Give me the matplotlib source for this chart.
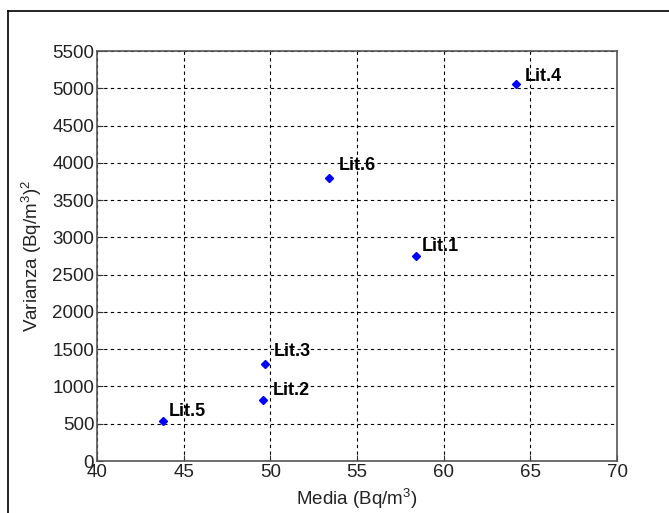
import matplotlib
matplotlib.use('agg')
import matplotlib.pyplot as plt
from matplotlib.lines import Line2D

# data
labels = ['Lit.1', 'Lit.2', 'Lit.3', 'Lit.4', 'Lit.5', 'Lit.6']
media = [58.4, 49.6, 49.7, 64.2, 43.8, 53.4]
varianza = [2750, 820, 1300, 5060, 530, 3800]

# label offsets in points (right, up)
offsets = [(4.5, 7), (7, 6.5), (6.5, 9), (6, 5), (4.5, 7), (7, 8.5)]

plt.rcParams['font.family'] = ['Liberation Sans', 'DejaVu Sans']
plt.rcParams['mathtext.fontset'] = 'custom'
plt.rcParams['mathtext.rm'] = 'Liberation Sans'

fig = plt.figure(figsize=(6.69, 5.13), dpi=100)
ax = fig.add_axes([97/669, 1-461/513, 520/669, 410/513])

ax.plot(media, varianza, linestyle='none', marker='D', markersize=4.5,
        color='blue')
for name, x, y, off in zip(labels, media, varianza, offsets):
    ax.annotate(name, (x, y), xytext=off, textcoords='offset points',
                fontsize=13, fontweight='bold', va='center', ha='left')

ax.set_xlim(40, 70)
ax.set_ylim(0, 5500)
ax.set_xticks(range(40, 71, 5))
ax.set_yticks(range(0, 5501, 500))
ax.grid(True, color='black', linestyle=(0, (3, 3)), linewidth=0.8)
ax.tick_params(direction='in', length=4, labelsize=13.5, colors='#333333',
               labelcolor='#222222', pad=2)
for sp in ax.spines.values():
    sp.set_color('#555555')
    sp.set_linewidth(1.2)

ax.set_xlabel('Media (Bq/m$^3$)', fontsize=13.5, color='#222222', labelpad=4)
ax.set_ylabel('Varianza (Bq/m$^3$)$^2$', fontsize=13.5, color='#222222',
              labelpad=6)

# outer frame of the original window (cropped at right and bottom)
fig.add_artist(Line2D([8/669, 1.0], [1-11/513, 1-11/513], color='black',
                      linewidth=1.2, transform=fig.transFigure))
fig.add_artist(Line2D([8/669, 8/669], [0.0, 1-11/513], color='black',
                      linewidth=1.2, transform=fig.transFigure))

fig.savefig('out.png', dpi=100, facecolor='white')
plt.close()
